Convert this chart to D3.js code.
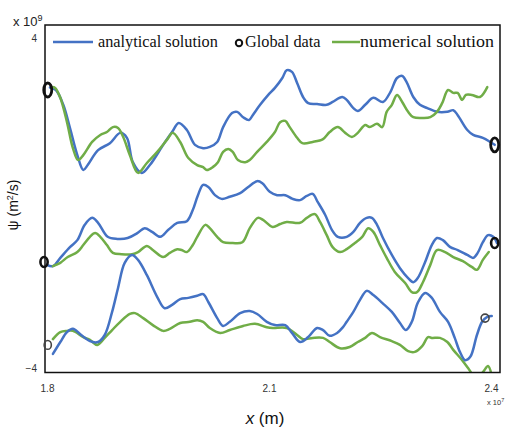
<!DOCTYPE html>
<html>
<head>
<meta charset="utf-8">
<script src="https://cdn.jsdelivr.net/npm/d3@7"></script>
<style>
  html, body { margin: 0; padding: 0; background: #fff; }
  svg { display: block; }
</style>
</head>
<body>
<svg id="chart" width="510" height="428"></svg>
<script>
// ---- Data (x in units of 1e7 m, psi in units of 1e9 m^2/s) ----
const xTicks = [1.8, 2.1, 2.4];
const yTicks = [-4, 4];

// Upper set
const topAnalyticalX = [1.804,1.812,1.822,1.831,1.841,1.849,1.855,1.869,1.885,1.899,1.908,1.916,1.928,1.939,1.957,1.969,1.978,1.989,2.000,2.011,2.020,2.030,2.038,2.050,2.057,2.065,2.073,2.078,2.088,2.099,2.108,2.118,2.124,2.131,2.138,2.146,2.153,2.165,2.178,2.186,2.199,2.205,2.214,2.220,2.230,2.241,2.254,2.264,2.273,2.280,2.286,2.295,2.304,2.314,2.327,2.341,2.349,2.355,2.368,2.376,2.389,2.399,2.405];
const topAnalyticalY = [2.80,2.74,2.38,1.82,1.16,0.80,0.92,1.28,1.45,1.70,1.58,0.99,0.73,0.92,1.41,1.72,1.94,1.77,1.41,1.33,1.36,1.48,1.84,2.18,2.21,2.08,2.01,2.13,2.38,2.62,2.79,3.03,3.22,3.18,2.91,2.57,2.42,2.40,2.38,2.45,2.57,2.50,2.30,2.23,2.38,2.55,2.45,2.69,3.03,3.08,2.93,2.57,2.38,2.30,2.21,2.21,2.25,2.13,1.77,1.65,1.58,1.48,1.41];
const topNumericalX = [1.807,1.811,1.818,1.827,1.835,1.842,1.849,1.861,1.872,1.881,1.889,1.896,1.903,1.912,1.923,1.935,1.949,1.962,1.970,1.980,1.991,2.003,2.011,2.016,2.024,2.031,2.038,2.045,2.051,2.058,2.068,2.074,2.084,2.097,2.108,2.115,2.122,2.128,2.138,2.145,2.159,2.173,2.182,2.193,2.203,2.212,2.220,2.230,2.236,2.246,2.253,2.259,2.266,2.273,2.280,2.288,2.295,2.308,2.318,2.327,2.334,2.342,2.349,2.355,2.361,2.366,2.374,2.385,2.395];
const topNumericalY = [2.81,2.79,2.55,1.96,1.33,1.04,1.16,1.48,1.65,1.72,1.84,1.82,1.60,1.16,0.73,0.97,1.24,1.53,1.70,1.48,1.09,0.92,0.87,0.80,0.87,0.99,1.24,1.31,1.24,1.04,0.99,1.04,1.24,1.48,1.72,1.96,1.99,1.84,1.58,1.45,1.48,1.55,1.72,1.84,1.70,1.60,1.70,1.89,1.84,1.92,1.84,2.21,2.38,2.62,2.45,2.21,2.08,2.06,2.08,2.21,2.42,2.74,2.67,2.67,2.50,2.62,2.62,2.57,2.81];

// Middle set
const midAnalyticalX = [1.800,1.808,1.818,1.831,1.841,1.851,1.861,1.869,1.882,1.895,1.909,1.922,1.932,1.942,1.953,1.964,1.976,1.989,1.997,2.004,2.011,2.018,2.027,2.036,2.047,2.061,2.072,2.084,2.091,2.101,2.111,2.122,2.132,2.142,2.151,2.159,2.166,2.176,2.185,2.193,2.205,2.214,2.223,2.232,2.239,2.246,2.254,2.266,2.277,2.288,2.295,2.301,2.311,2.320,2.327,2.335,2.345,2.355,2.368,2.376,2.382,2.389,2.396,2.403,2.408];
const midAnalyticalY = [-1.50,-1.53,-1.33,-1.07,-0.90,-0.53,-0.36,-0.48,-0.82,-0.87,-0.85,-0.73,-0.61,-0.70,-0.82,-0.65,-0.48,-0.44,-0.17,0.19,0.44,0.39,0.19,0.10,0.15,0.24,0.39,0.53,0.48,0.27,0.19,0.19,0.10,0.07,0.17,0.22,0.02,-0.29,-0.65,-0.82,-0.82,-0.70,-0.48,-0.36,-0.36,-0.53,-0.85,-1.26,-1.58,-1.82,-1.92,-1.82,-1.43,-1.02,-0.85,-0.90,-1.07,-1.14,-1.26,-1.33,-1.21,-0.95,-0.78,-0.82,-0.97];
const midNumericalX = [1.808,1.818,1.828,1.841,1.849,1.858,1.865,1.872,1.881,1.889,1.901,1.915,1.923,1.935,1.943,1.957,1.966,1.976,1.982,1.989,1.997,2.003,2.014,2.020,2.030,2.038,2.051,2.064,2.074,2.085,2.092,2.105,2.115,2.124,2.142,2.151,2.162,2.169,2.178,2.186,2.196,2.205,2.216,2.226,2.234,2.241,2.250,2.259,2.270,2.284,2.293,2.300,2.308,2.318,2.327,2.338,2.349,2.362,2.374,2.381,2.389,2.397];
const midNumericalY = [-1.53,-1.45,-1.31,-1.19,-1.02,-0.82,-0.73,-0.82,-1.02,-1.21,-1.24,-1.24,-1.19,-1.04,-1.14,-1.31,-1.21,-1.12,-1.14,-1.19,-1.02,-0.82,-0.53,-0.61,-0.82,-0.95,-0.97,-0.95,-0.61,-0.36,-0.41,-0.58,-0.51,-0.46,-0.48,-0.36,-0.27,-0.46,-0.78,-1.07,-1.19,-1.12,-0.97,-0.82,-0.61,-0.70,-1.02,-1.33,-1.67,-1.94,-2.16,-2.16,-1.92,-1.50,-1.14,-1.19,-1.31,-1.41,-1.55,-1.62,-1.38,-1.19];

// Lower set
const lowAnalyticalX = [1.808,1.818,1.827,1.835,1.845,1.858,1.869,1.878,1.888,1.896,1.905,1.915,1.923,1.935,1.949,1.959,1.969,1.980,1.991,2.003,2.011,2.018,2.030,2.038,2.047,2.061,2.074,2.084,2.097,2.108,2.122,2.131,2.142,2.153,2.165,2.173,2.182,2.192,2.200,2.205,2.214,2.223,2.232,2.241,2.253,2.266,2.277,2.285,2.293,2.301,2.311,2.320,2.331,2.342,2.351,2.358,2.365,2.372,2.381,2.388,2.395,2.401];
const lowAnalyticalY = [-3.66,-3.37,-3.13,-3.05,-3.18,-3.35,-3.37,-3.20,-2.64,-2.06,-1.45,-1.26,-1.38,-1.75,-2.28,-2.55,-2.47,-2.33,-2.30,-2.25,-2.21,-2.40,-2.79,-2.98,-2.88,-2.67,-2.62,-2.69,-2.88,-2.96,-2.96,-3.15,-3.37,-3.25,-3.03,-3.08,-3.22,-3.15,-3.01,-2.88,-2.64,-2.35,-2.13,-2.23,-2.42,-2.64,-2.91,-3.08,-2.88,-2.42,-2.18,-2.30,-2.64,-2.88,-3.27,-3.61,-3.81,-3.73,-3.20,-2.88,-2.76,-2.74];
const lowNumericalX = [1.808,1.818,1.827,1.835,1.849,1.858,1.868,1.878,1.888,1.899,1.912,1.919,1.930,1.943,1.957,1.966,1.980,1.993,2.003,2.011,2.020,2.034,2.047,2.065,2.081,2.097,2.105,2.124,2.138,2.146,2.159,2.173,2.182,2.196,2.209,2.220,2.230,2.239,2.250,2.266,2.277,2.288,2.297,2.307,2.315,2.320,2.331,2.341,2.349,2.361,2.369,2.376,2.382,2.389,2.396,2.401];
const lowNumericalY = [-3.30,-3.13,-3.10,-3.10,-3.25,-3.32,-3.44,-3.27,-3.08,-2.88,-2.69,-2.67,-2.79,-2.96,-3.10,-3.05,-2.91,-2.88,-2.84,-2.88,-3.03,-3.15,-3.08,-2.98,-2.93,-3.01,-3.03,-3.03,-3.20,-3.30,-3.27,-3.27,-3.37,-3.52,-3.49,-3.37,-3.27,-3.15,-3.25,-3.35,-3.44,-3.59,-3.61,-3.47,-3.25,-3.27,-3.27,-3.37,-3.56,-3.81,-4.00,-4.17,-4.19,-4.10,-3.95,-4.19];

// Global data points
const globalX = [1.801, 2.405, 1.796, 2.405, 1.801, 2.392];
const globalY = [2.74, 1.41, -1.43, -0.97, -3.44, -2.79];

// ---- Drawing ----
const svg = d3.select("#chart");
const frame = {left: 45, top: 25, right: 500, bottom: 372.5};

const x = d3.scaleLinear().domain([1.8, 2.4]).range([47, 491]);
const y = d3.scaleLinear().domain([-4, 4]).range([368, 38]);

const BLUE = "#4472C4", GREEN = "#70AD47";

svg.append("defs").append("clipPath").attr("id", "plotclip")
  .append("rect")
  .attr("x", frame.left).attr("y", frame.top)
  .attr("width", frame.right - frame.left).attr("height", frame.bottom - frame.top);

const zip = (xs, ys) => xs.map((v, i) => [v, ys[i]]);
const line = d3.line().x(d => x(d[0])).y(d => y(d[1])).curve(d3.curveCatmullRom.alpha(0.5));

const plot = svg.append("g").attr("clip-path", "url(#plotclip)");

const series = [
  {xs: topAnalyticalX, ys: topAnalyticalY, c: BLUE},
  {xs: topNumericalX, ys: topNumericalY, c: GREEN},
  {xs: midAnalyticalX, ys: midAnalyticalY, c: BLUE},
  {xs: midNumericalX, ys: midNumericalY, c: GREEN},
  {xs: lowNumericalX, ys: lowNumericalY, c: GREEN},
  {xs: lowAnalyticalX, ys: lowAnalyticalY, c: BLUE}
];
plot.selectAll("path.series")
  .data(series)
  .join("path")
  .attr("class", "series")
  .attr("d", d => line(zip(d.xs, d.ys)))
  .attr("fill", "none")
  .attr("stroke", d => d.c)
  .attr("stroke-width", 2.5)
  .attr("stroke-linejoin", "round")
  .attr("stroke-linecap", "round");

// Frame
svg.append("rect")
  .attr("x", frame.left).attr("y", frame.top)
  .attr("width", frame.right - frame.left).attr("height", frame.bottom - frame.top)
  .attr("fill", "none").attr("stroke", "#111").attr("stroke-width", 1.5);

// Global data markers
const markerStyle = [
  {rx: 4, ry: 7, sw: 2.8, c: "#111"},
  {rx: 4, ry: 7, sw: 2.8, c: "#111"},
  {rx: 3.6, ry: 5, sw: 2.6, c: "#111"},
  {rx: 3.6, ry: 5, sw: 2.6, c: "#111"},
  {rx: 3.6, ry: 4.4, sw: 1.6, c: "#444"},
  {rx: 4, ry: 4, sw: 1.6, c: "#444"}
];
svg.selectAll("ellipse.global")
  .data(globalX.map((v, i) => ({x: v, y: globalY[i], s: markerStyle[i]})))
  .join("ellipse")
  .attr("class", "global")
  .attr("cx", d => x(d.x)).attr("cy", d => y(d.y))
  .attr("rx", d => d.s.rx).attr("ry", d => d.s.ry)
  .attr("fill", "none").attr("stroke", d => d.s.c).attr("stroke-width", d => d.s.sw);

// Axes
const xAxis = d3.axisBottom(x).tickValues(xTicks).tickSize(0).tickPadding(12).tickFormat(d3.format(".1f"));
const gx = svg.append("g").attr("transform", `translate(0,${frame.bottom})`).call(xAxis);
gx.select(".domain").remove();
gx.selectAll("text").attr("font-family", "Liberation Sans, Arial, sans-serif").attr("font-size", 10).attr("fill", "#333");

const yAxis = d3.axisLeft(y).tickValues(yTicks).tickSize(0).tickPadding(8).tickFormat(d3.format("d"));
const gy = svg.append("g").attr("transform", `translate(${frame.left},0)`).call(yAxis);
gy.select(".domain").remove();
gy.selectAll("text").attr("font-family", "Liberation Sans, Arial, sans-serif").attr("font-size", 10).attr("fill", "#333");

// Exponent labels
const yExp = svg.append("text").attr("x", 13).attr("y", 26)
  .attr("font-family", "Liberation Sans, Arial, sans-serif").attr("font-size", 13).attr("fill", "#222");
yExp.append("tspan").text("x 10");
yExp.append("tspan").attr("dy", -5).attr("font-size", 9).text("9");

const xExp = svg.append("text").attr("x", 487).attr("y", 405)
  .attr("font-family", "Liberation Sans, Arial, sans-serif").attr("font-size", 7.5).attr("fill", "#333");
xExp.append("tspan").text("x 10");
xExp.append("tspan").attr("dy", -3).attr("font-size", 5.5).text("7");

// Axis titles
const xt = svg.append("text").attr("x", 265).attr("y", 424).attr("text-anchor", "middle")
  .attr("font-family", "Liberation Sans, Arial, sans-serif").attr("font-size", 17).attr("fill", "#111");
xt.append("tspan").attr("font-style", "italic").text("x");
xt.append("tspan").text(" (m)");

const yt = svg.append("text")
  .attr("transform", "translate(18,205) rotate(-90)")
  .attr("text-anchor", "middle")
  .attr("font-family", "Liberation Sans, Arial, sans-serif").attr("font-size", 14).attr("fill", "#111");
yt.append("tspan").text("\u03C8 (m");
yt.append("tspan").attr("dy", -5).attr("font-size", 9).text("2");
yt.append("tspan").attr("dy", 5).text("/s)");

// Legend
const lg = svg.append("g").attr("font-family", "Liberation Serif, Times New Roman, serif").attr("font-size", 16.3).attr("fill", "#111");
lg.append("line").attr("x1", 53).attr("x2", 93).attr("y1", 42).attr("y2", 42).attr("stroke", BLUE).attr("stroke-width", 2.5);
lg.append("text").attr("x", 98).attr("y", 47).text("analytical solution");
lg.append("circle").attr("cx", 239).attr("cy", 43).attr("r", 3.2).attr("fill", "none").attr("stroke", "#111").attr("stroke-width", 2);
lg.append("text").attr("x", 245).attr("y", 47).text("Global data");
lg.append("line").attr("x1", 332).attr("x2", 360).attr("y1", 42).attr("y2", 42).attr("stroke", GREEN).attr("stroke-width", 2.5);
lg.append("text").attr("x", 360).attr("y", 47).attr("textLength", 134).attr("lengthAdjust", "spacingAndGlyphs").text("numerical solution");
</script>
</body>
</html>
